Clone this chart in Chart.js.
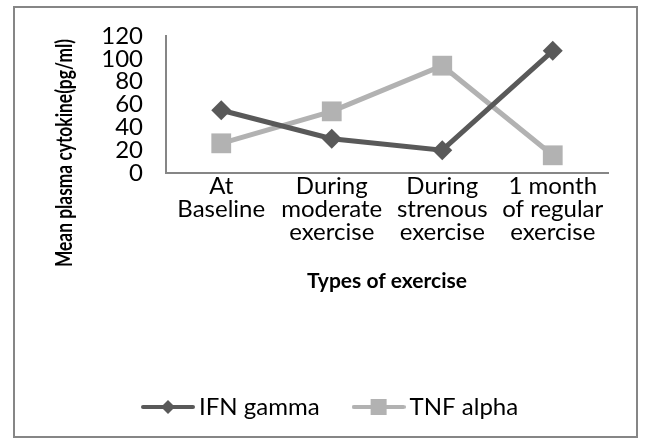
<!DOCTYPE html>
<html>
<head>
<meta charset="utf-8">
<script src="https://cdn.jsdelivr.net/npm/chart.js@4.4.1/dist/chart.umd.min.js"></script>
<style>
  html, body { margin: 0; padding: 0; background: #ffffff; }
  #wrap { position: relative; width: 646px; height: 443px; }
  canvas { display: block; }
</style>
</head>
<body>
<div id="wrap"><canvas id="chart" width="646" height="443"></canvas></div>
<script>
// Exercise stages (category axis, multi-line labels)
const categories = [
  ['At', 'Baseline'],
  ['During', 'moderate', 'exercise'],
  ['During', 'strenous', 'exercise'],
  ['1 month', 'of regular', 'exercise']
];
// Mean plasma cytokine levels, pg/ml
const ifnGamma = [55, 30, 20, 107];
const tnfAlpha = [26, 54, 94, 15.5];
// Value axis
const yTicks = [0, 20, 40, 60, 80, 100, 120];

const seriesNames = ['IFN gamma', 'TNF alpha'];
const yTitle = 'Mean plasma cytokine(pg/ml)';
const xTitle = 'Types of exercise';

const FONT = 'Lato, "Liberation Sans", sans-serif';
const IFN_COLOR = '#595959';
const TNF_COLOR = '#b2b2b2';
const AXIS_COLOR = '#868686';
const LEGEND_PAD = 40;

// Legend swatch: a short line with the series marker in the middle
function legendSwatch(color, marker) {
  const c = document.createElement('canvas');
  c.width = 54; c.height = 20;
  const g = c.getContext('2d');
  g.strokeStyle = color;
  g.lineWidth = 4;
  g.lineCap = 'round';
  g.beginPath(); g.moveTo(2, 10); g.lineTo(52, 10); g.stroke();
  g.fillStyle = color;
  if (marker === 'diamond') {
    g.beginPath();
    g.moveTo(27, 3); g.lineTo(34, 10); g.lineTo(27, 17); g.lineTo(20, 10);
    g.closePath(); g.fill();
  } else {
    g.fillRect(19, 2, 16, 16);
  }
  return c;
}
const swatches = [legendSwatch(IFN_COLOR, 'diamond'), legendSwatch(TNF_COLOR, 'square')];

// Outer frame, legend placement and the rotated value-axis title
const framePlugin = {
  id: 'frame',
  afterLayout(chart) {
    const lg = chart.legend;
    if (!lg || !lg.lineWidths) return;
    const rowWidth = lg.lineWidths[0];
    const firstBoxX = 149;
    const h = lg.height;
    lg.left = 0;
    lg.right = 2 * firstBoxX - LEGEND_PAD + rowWidth;
    lg.top = 407 - LEGEND_PAD - 12;
    lg.bottom = lg.top + h;
  },
  beforeDraw(chart) {
    const ctx = chart.ctx;
    ctx.save();
    ctx.fillStyle = '#ffffff';
    ctx.fillRect(0, 0, chart.width, chart.height);
    ctx.strokeStyle = AXIS_COLOR;
    ctx.lineWidth = 2;
    ctx.strokeRect(14, 7, 623, 430);
    ctx.restore();
  },
  afterDraw(chart) {
    const ctx = chart.ctx;
    ctx.save();
    ctx.translate(65, 153);
    ctx.rotate(-Math.PI / 2);
    ctx.scale(0.79, 1);
    ctx.fillStyle = '#000000';
    ctx.font = 'bold 22px ' + FONT;
    ctx.textAlign = 'center';
    ctx.textBaseline = 'middle';
    ctx.fillText(yTitle, 0, 0);
    ctx.restore();
  }
};

new Chart(document.getElementById('chart'), {
  type: 'line',
  data: {
    labels: categories,
    datasets: [
      {
        label: seriesNames[0],
        data: ifnGamma,
        borderColor: IFN_COLOR,
        backgroundColor: IFN_COLOR,
        borderWidth: 5,
        pointStyle: 'rectRot',
        pointRadius: 10,
        pointHoverRadius: 10,
        pointBorderWidth: 0,
        tension: 0
      },
      {
        label: seriesNames[1],
        data: tnfAlpha,
        borderColor: TNF_COLOR,
        backgroundColor: TNF_COLOR,
        borderWidth: 5,
        pointStyle: 'rect',
        pointRadius: 14,
        pointHoverRadius: 14,
        pointBorderWidth: 0,
        tension: 0
      }
    ]
  },
  options: {
    responsive: false,
    animation: false,
    events: [],
    layout: { padding: { left: 14, top: 36, right: 38, bottom: 10 } },
    scales: {
      x: {
        type: 'category',
        offset: true,
        grid: { display: false, drawTicks: false },
        border: { display: true, color: AXIS_COLOR, width: 2 },
        ticks: {
          color: '#000000',
          padding: 2,
          maxRotation: 0,
          autoSkip: false,
          font: { family: FONT, size: 24, lineHeight: '23px' }
        },
        title: {
          display: true,
          text: xTitle,
          color: '#000000',
          font: { family: FONT, size: 21, weight: 'bold', lineHeight: '24px' },
          padding: { top: 0, bottom: 66 }
        },
        afterFit(scale) { scale.height = 186; }
      },
      y: {
        min: 0,
        max: 120,
        grid: { display: false, drawTicks: false },
        border: { display: true, color: AXIS_COLOR, width: 2 },
        afterBuildTicks(scale) { scale.ticks = yTicks.map(v => ({ value: v })); },
        ticks: {
          color: '#000000',
          padding: 23,
          autoSkip: false,
          font: { family: FONT, size: 24, lineHeight: '23px' }
        },
        afterFit(scale) { scale.width = 152; }
      }
    },
    plugins: {
      legend: {
        position: 'bottom',
        labels: {
          color: '#000000',
          font: { family: FONT, size: 24 },
          usePointStyle: true,
          pointStyleWidth: 38,
          padding: LEGEND_PAD,
          generateLabels(chart) {
            return chart.data.datasets.map((ds, i) => ({
              text: ds.label,
              pointStyle: swatches[i],
              fontColor: '#000000',
              strokeStyle: ds.borderColor,
              fillStyle: ds.backgroundColor,
              lineWidth: 0,
              datasetIndex: i,
              hidden: false
            }));
          }
        }
      },
      tooltip: { enabled: false }
    }
  },
  plugins: [framePlugin]
});
</script>
</body>
</html>
